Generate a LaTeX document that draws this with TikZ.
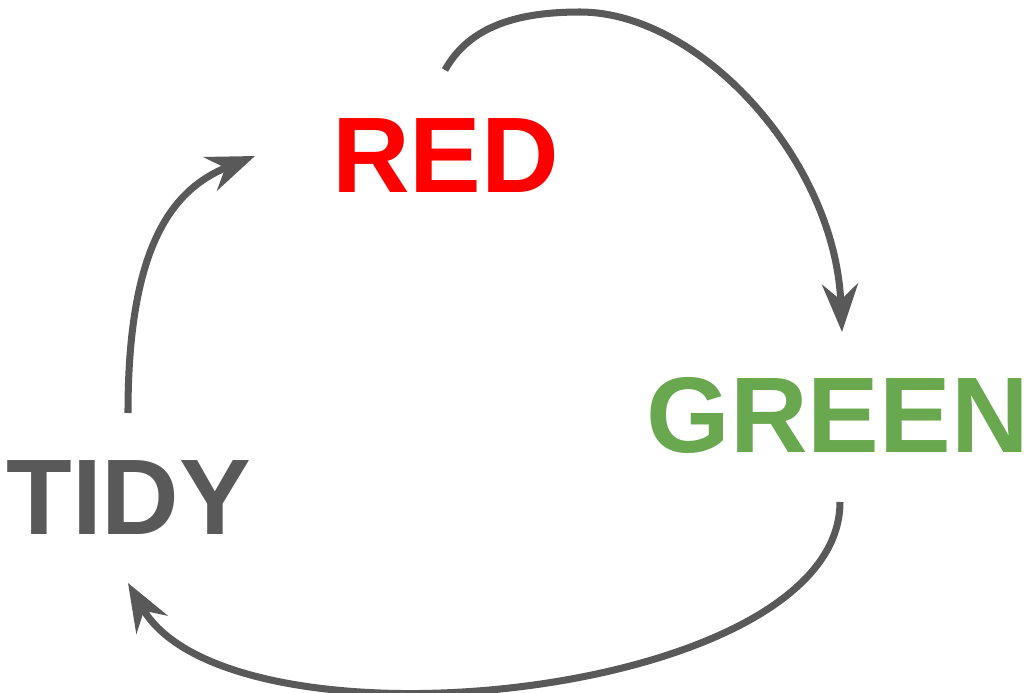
\documentclass[tikz,border=0pt]{standalone}
\usepackage{fontspec}
\setmainfont{Liberation Sans}
\usetikzlibrary{arrows.meta}

\definecolor{redword}{HTML}{FF0000}
\definecolor{greenword}{HTML}{6AA84F}
\definecolor{greyword}{HTML}{595959}

\begin{document}
\begin{tikzpicture}[x=0.02cm,y=-0.02cm,
	word/.style={anchor=base west,inner sep=0pt,font=\fontsize{61.2}{61.2}\selectfont\bfseries},
	cyclearrow/.style={draw=greyword,line width=4pt,-{Stealth[length=0.96cm,width=0.72cm,inset=0.32cm]}}]
	\useasboundingbox (0,0) rectangle (1029,693);
	% the three words
	\node[word,text=redword] (red) at (332,192) {RED};
	\node[word,text=greenword] (green) at (646,452) {GREEN};
	\node[word,text=greyword] (tidy) at (6,534) {TIDY};
	% ends of the arrows
	\coordinate (red out) at (445,70);
	\coordinate (green in) at (842,332);
	\coordinate (green out) at (840,502);
	\coordinate (tidy in) at (128,583);
	\coordinate (tidy out) at (128,413);
	\coordinate (red in) at (255,156);
	% red -> green -> tidy -> red
	\draw[cyclearrow] (red out) .. controls (470,25) and (520,12) .. (580,12) .. controls (700,12) and (835,160) .. (green in);
	\draw[cyclearrow] (green out) .. controls (840,700) and (230,760) .. (tidy in);
	\draw[cyclearrow] (tidy out) .. controls (128,250) and (170,190) .. (red in);
\end{tikzpicture}
\end{document}
